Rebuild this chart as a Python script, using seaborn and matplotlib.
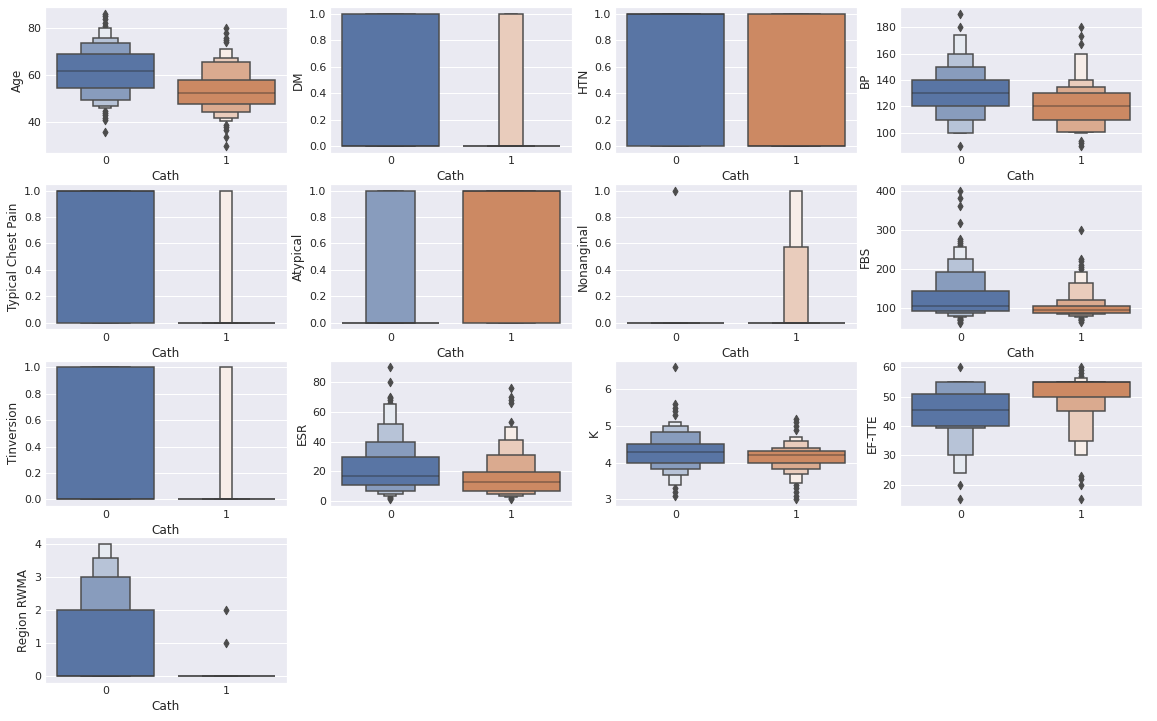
import colorsys
import numpy as np
import matplotlib
matplotlib.use("Agg")
import matplotlib.pyplot as plt
import seaborn as sns

# ---------------- data (letter-value box ends, outer -> inner) ----------------
groups = [0, 1]
group_labels = ["0", "1"]
x_label = "Cath"

age_lo = [[46, 47, 49.5, 54.5], [40.5, 42, 44.5, 48]]
age_hi = [[80, 76, 73.5, 69], [71, 67.5, 65.5, 58]]
age_med = [62, 52.5]
age_out = [[86, 85, 84, 82, 81, 45, 44, 43, 42, 41, 36],
           [80, 78, 76, 75, 74, 39, 38, 37, 34, 30]]

dm_lo = [[0, 0, 0, 0], [0, 0, 0, 0]]
dm_hi = [[1, 1, 1, 1], [1, 1, 0, 0]]
dm_med = [0, 0]
dm_out = [[], []]

htn_lo = [[0, 0, 0, 0], [0, 0, 0, 0]]
htn_hi = [[1, 1, 1, 1], [1, 1, 1, 1]]
htn_med = [1, 0]
htn_out = [[], []]

bp_lo = [[100, 100, 110, 120], [100, 100.5, 101, 110]]
bp_hi = [[174, 160, 150, 140], [160, 140, 135, 130]]
bp_med = [130, 120]
bp_out = [[190, 180, 90], [180, 173, 167, 94, 92, 90]]

tcp_lo = [[0, 0, 0, 0], [0, 0, 0, 0]]
tcp_hi = [[1, 1, 1, 1], [1, 0, 0, 0]]
tcp_med = [1, 0]
tcp_out = [[], []]

atyp_lo = [[0, 0, 0, 0], [0, 0, 0, 0]]
atyp_hi = [[1, 1, 1, 0], [1, 1, 1, 1]]
atyp_med = [0, 1]
atyp_out = [[], []]

nonang_lo = [[0, 0, 0, 0], [0, 0, 0, 0]]
nonang_hi = [[0, 0, 0, 0], [1, 0.57, 0, 0]]
nonang_med = [0, 0]
nonang_out = [[1], []]

fbs_lo = [[78, 79, 86, 91], [77, 79, 84, 86.5]]
fbs_hi = [[256, 224, 192, 143], [193, 165, 119, 104]]
fbs_med = [105, 95]
fbs_out = [[400, 380, 360, 318, 275, 270, 265, 262, 75, 72, 70, 68, 65, 62],
           [300, 225, 220, 210, 205, 200, 75, 72, 70, 68, 65]]

tinv_lo = [[0, 0, 0, 0], [0, 0, 0, 0]]
tinv_hi = [[1, 1, 1, 1], [1, 0, 0, 0]]
tinv_med = [0, 0]
tinv_out = [[], []]

esr_lo = [[3.4, 4.5, 6.7, 10.8], [2.7, 3.6, 4.7, 6.9]]
esr_hi = [[65, 52, 40, 29.5], [49.5, 41, 31, 19.5]]
esr_med = [16.5, 13]
esr_out = [[90, 80, 70, 69, 68, 66, 3, 2, 1], [76, 70, 68, 66, 53, 2, 1]]

k_lo = [[3.4, 3.68, 3.84, 4.0], [3.45, 3.69, 3.83, 4.0]]
k_hi = [[5.12, 5.0, 4.83, 4.52], [4.69, 4.58, 4.41, 4.32]]
k_med = [4.3, 4.2]
k_out = [[6.6, 5.6, 5.5, 5.4, 5.3, 3.3, 3.2, 3.1],
         [5.2, 5.1, 5.0, 4.9, 3.4, 3.3, 3.2, 3.1, 3.0]]

ef_lo = [[24, 30, 39.5, 40], [30, 35, 45, 50]]
ef_hi = [[55, 55, 55, 51], [56.5, 55, 55, 55]]
ef_med = [45.5, 55]
ef_out = [[60, 20, 15], [60, 59, 58, 57, 23, 22, 20, 15]]

rw_lo = [[0, 0, 0, 0], [0, 0, 0, 0]]
rw_hi = [[4, 3.58, 3, 2], [0, 0, 0, 0]]
rw_med = [0, 0]
rw_out = [[], [2, 1]]

y_labels = ["Age", "DM", "HTN", "BP", "Typical Chest Pain", "Atypical",
            "Nonanginal", "FBS", "Tinversion", "ESR", "K", "EF-TTE",
            "Region RWMA"]
panels = [
    (age_lo, age_hi, age_med, age_out),
    (dm_lo, dm_hi, dm_med, dm_out),
    (htn_lo, htn_hi, htn_med, htn_out),
    (bp_lo, bp_hi, bp_med, bp_out),
    (tcp_lo, tcp_hi, tcp_med, tcp_out),
    (atyp_lo, atyp_hi, atyp_med, atyp_out),
    (nonang_lo, nonang_hi, nonang_med, nonang_out),
    (fbs_lo, fbs_hi, fbs_med, fbs_out),
    (tinv_lo, tinv_hi, tinv_med, tinv_out),
    (esr_lo, esr_hi, esr_med, esr_out),
    (k_lo, k_hi, k_med, k_out),
    (ef_lo, ef_hi, ef_med, ef_out),
    (rw_lo, rw_hi, rw_med, rw_out),
]
no_xlabel = {"ESR", "K", "EF-TTE"}

# ---------------- style ----------------
sns.set_theme(style="darkgrid", context="notebook")
plt.rcParams["font.family"] = ["DejaVu Sans"]
plt.rcParams.update({
    "xtick.major.size": 0, "ytick.major.size": 0,
    "xtick.minor.size": 0, "ytick.minor.size": 0,
})

base = [sns.desaturate(c, 0.75) for c in sns.color_palette("deep", 2)]
lum = min(colorsys.rgb_to_hls(*c)[1] for c in base) * 0.6
gray = (lum, lum, lum)
box_width = 0.8
lw = 1.5

W, H, DPI = 1157, 721, 72
fig = plt.figure(figsize=(W / DPI, H / DPI), dpi=DPI)
col_left = [45, 330, 615, 900]
row_top = [7.3, 184.0, 360.7, 537.3]
ax_w, ax_h = 241.7, 145.4


def level_colors(c, k):
    c = np.array(c)
    vals = np.linspace(1, 0, k)
    return [tuple(c + v * 0.85 * (1 - c)) for v in vals]


for idx, (name, (lo, hi, med, out)) in enumerate(zip(y_labels, panels)):
    r, cidx = divmod(idx, 4)
    ax = fig.add_axes([col_left[cidx] / W, 1 - (row_top[r] + ax_h) / H,
                       ax_w / W, ax_h / H])
    ax.use_sticky_edges = False
    for g in groups:
        k = len(lo[g])
        widths = [box_width * 2.0 ** (i - (k - 1)) for i in range(k)]
        cols = level_colors(base[g], k)
        if len(out[g]):
            ax.scatter([g] * len(out[g]), out[g], marker="d", color=gray,
                       s=36, zorder=1)
        heights = [h - l for l, h in zip(lo[g], hi[g])]
        ax.bar([g] * k, heights, bottom=lo[g], width=widths, color=cols,
               edgecolor=gray, linewidth=lw, zorder=1)
        ax.plot([g - box_width / 2, g + box_width / 2], [med[g], med[g]],
                color=".15", alpha=0.45, linewidth=lw,
                solid_capstyle="butt", zorder=2)
    ax.autoscale_view()
    ax.set_xlim(-0.5, 1.5)
    ax.set_xticks(groups)
    ax.set_xticklabels(group_labels)
    ax.xaxis.grid(False)
    ax.set_ylabel(name)
    if name not in no_xlabel:
        ax.set_xlabel(x_label)

fig.savefig("out.png", dpi=DPI)
